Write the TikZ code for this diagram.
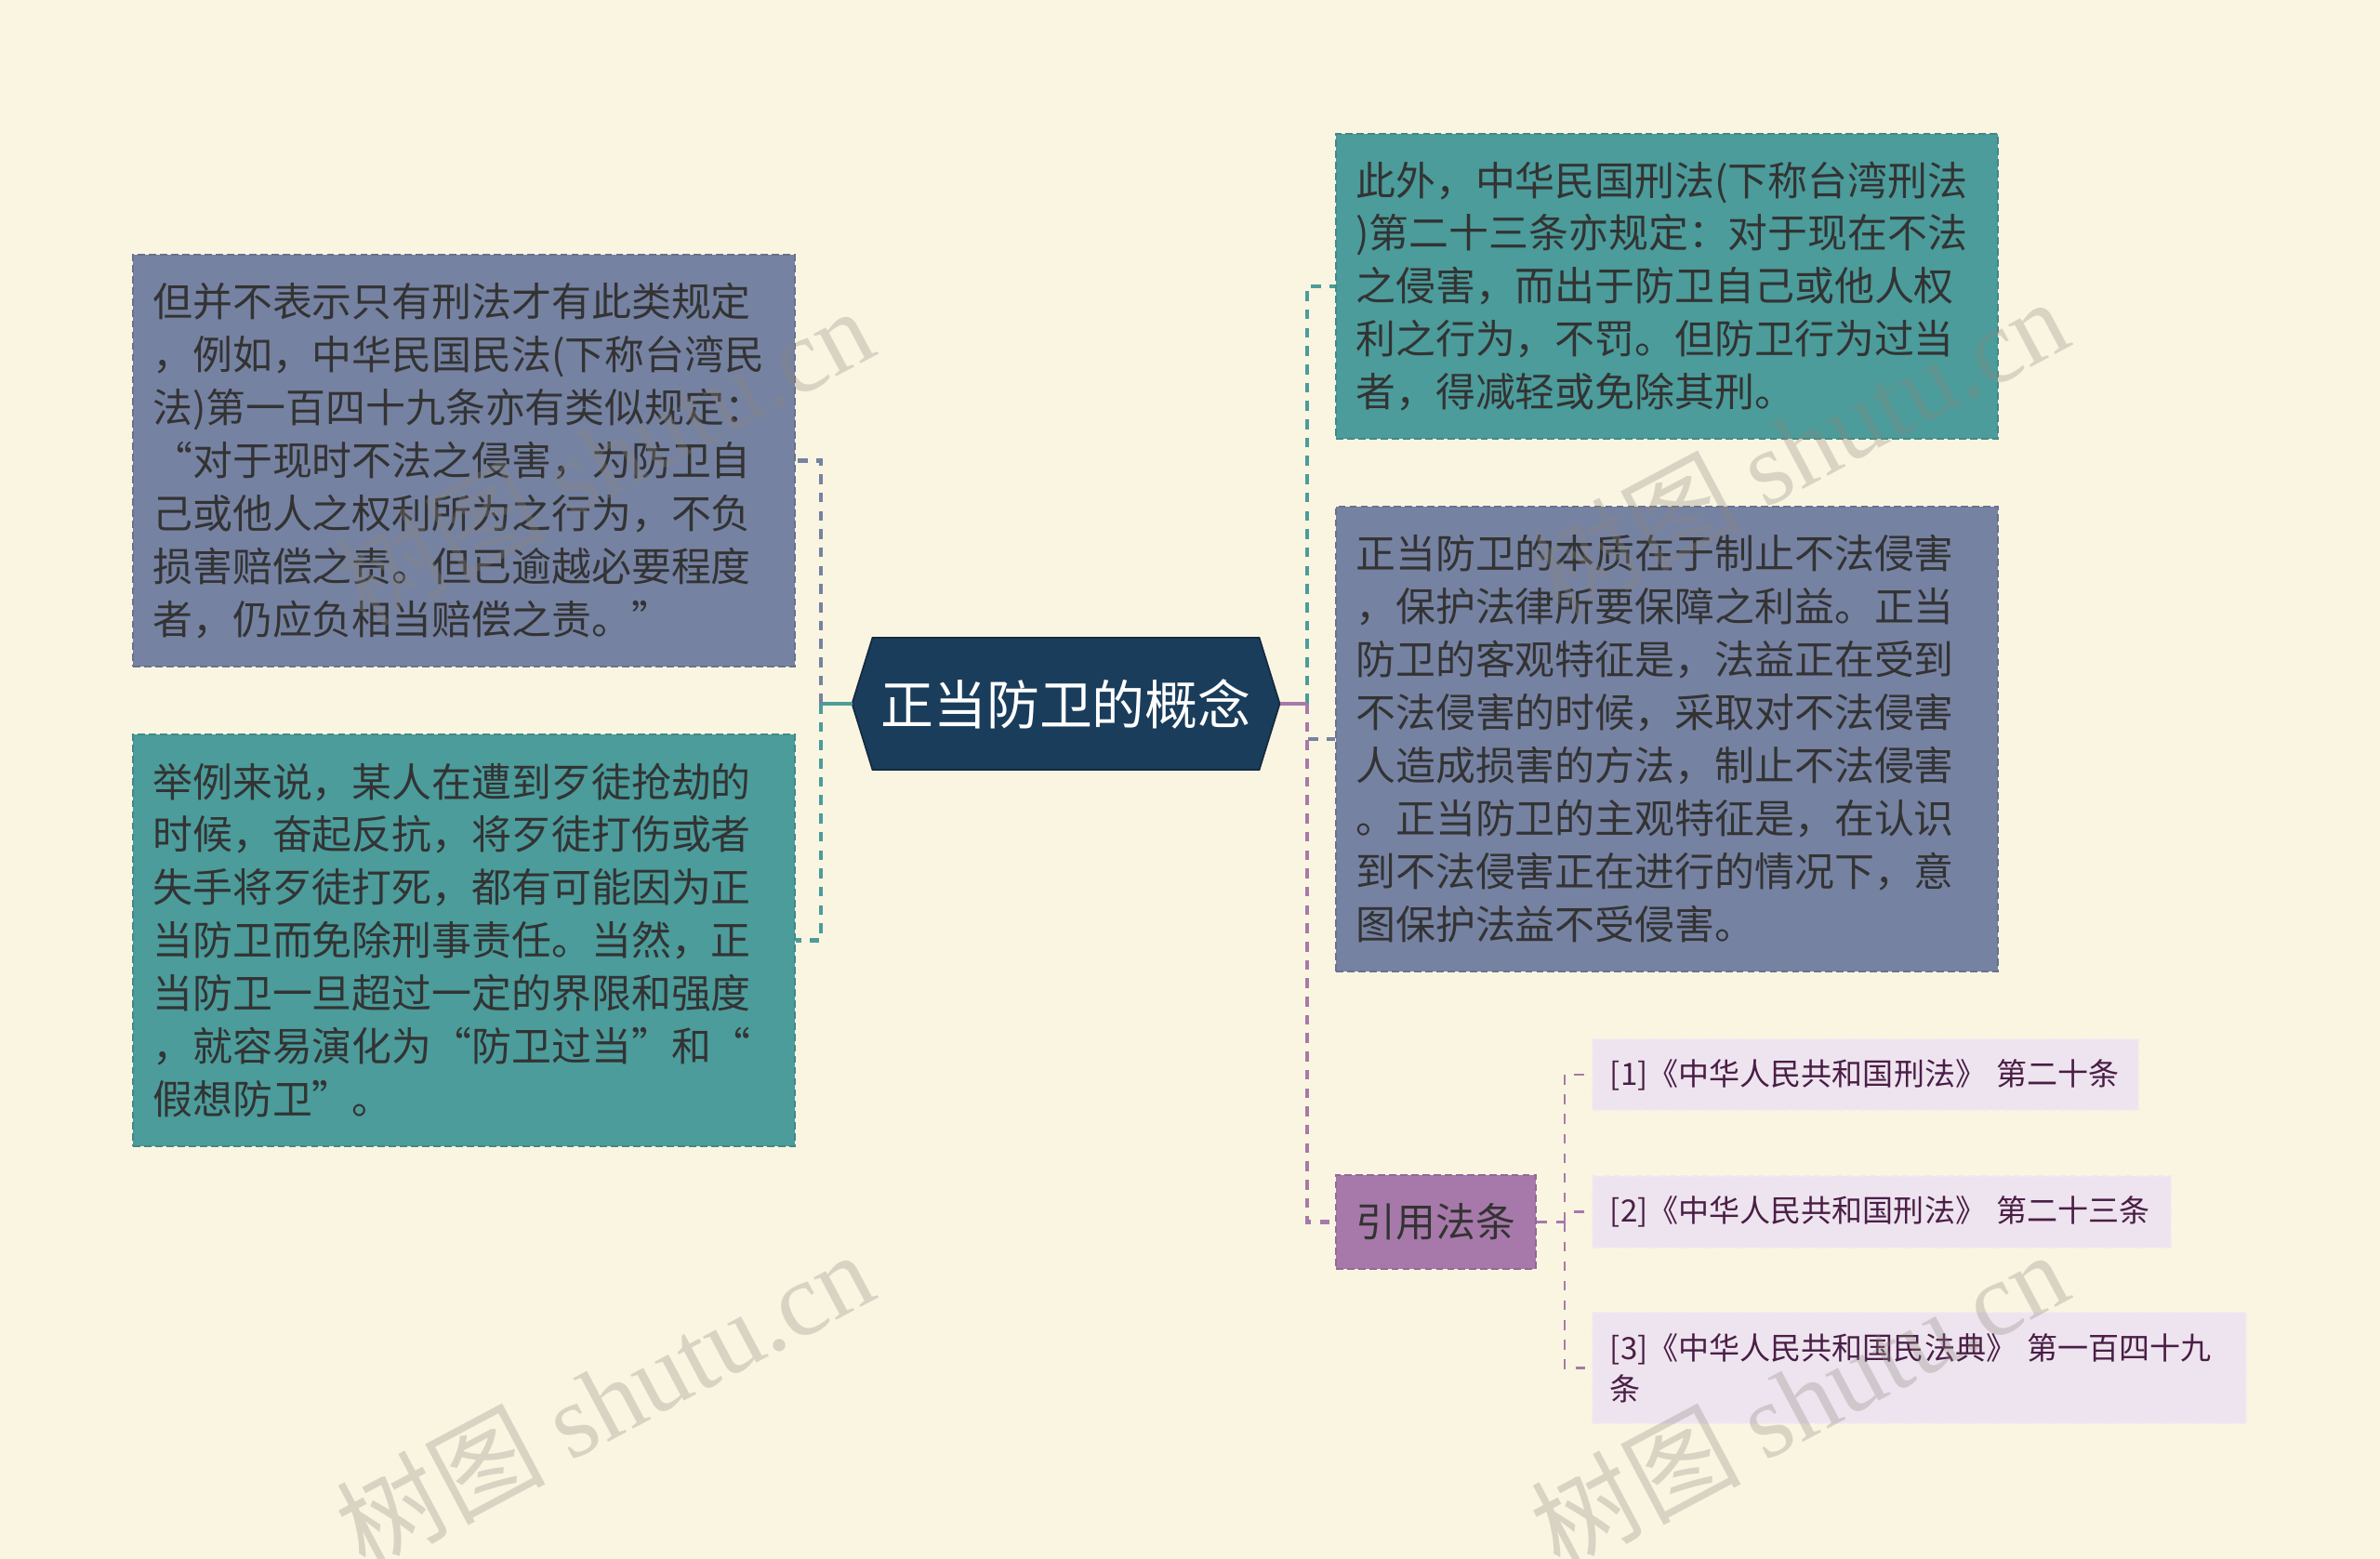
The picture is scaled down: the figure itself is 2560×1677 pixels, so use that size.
\documentclass[tikz,border=0pt]{standalone}
\usepackage{fontspec}
\setmainfont{Noto Sans CJK SC}
\newfontfamily\wmlatin{Liberation Serif}
\usetikzlibrary{calc}

\definecolor{bgcream}{HTML}{FAF5E1}
\definecolor{slateblue}{HTML}{7682A2}
\definecolor{tealbox}{HTML}{4B9C9B}
\definecolor{rootblue}{HTML}{1B3D5C}
\definecolor{citepurple}{HTML}{A779AA}
\definecolor{reflilac}{HTML}{EEE4EF}
\definecolor{textdark}{HTML}{333333}
\definecolor{refdark}{HTML}{4A1E46}
\definecolor{wmgray}{HTML}{8C877C}

\begin{document}
\begin{tikzpicture}[x=0.01cm, y=-0.01cm,
    txtbox/.style={rectangle, draw, dash pattern=on 2.2pt off 1.2pt, line width=0.6pt,
        inner xsep=0.21cm, inner ysep=0pt, align=left, text=textdark,
        font=\fontsize{12.2pt}{16.2pt}\selectfont, text width=6.69cm},
    refbox/.style={rectangle, fill=reflilac, draw=reflilac!85!white, dash pattern=on 2.2pt off 1.2pt,
        line width=0.6pt, inner xsep=0.19cm, inner ysep=0pt, align=left, text=refdark,
        font=\fontsize{9.4pt}{12.5pt}\selectfont},
    branch/.style={dash pattern=on 3pt off 2.6pt, line width=1.2pt},
    twig/.style={dash pattern=on 3pt off 3pt, line width=0.7pt, citepurple}]

    \useasboundingbox (0,0) rectangle (2560,1677);
    \fill[bgcream] (0,0) rectangle (2560,1677);

    % left side
    \node[txtbox, fill=slateblue, draw=slateblue!88!black, minimum height=4.43cm] (lb1) at (499,495.5)
        {但并不表示只有刑法才有此类规定\\，例如，中华民国民法(下称台湾民\\法)第一百四十九条亦有类似规定：\\“对于现时不法之侵害，为防卫自\\己或他人之权利所为之行为，不负\\损害赔偿之责。但已逾越必要程度\\者，仍应负相当赔偿之责。”};
    \node[txtbox, fill=tealbox, draw=tealbox!88!black, minimum height=4.43cm] (lb2) at (499,1011.5)
        {举例来说，某人在遭到歹徒抢劫的\\时候，奋起反抗，将歹徒打伤或者\\失手将歹徒打死，都有可能因为正\\当防卫而免除刑事责任。当然，正\\当防卫一旦超过一定的界限和强度\\，就容易演化为“防卫过当”和“\\假想防卫”。};

    % right side
    \node[txtbox, fill=tealbox, draw=tealbox!88!black, minimum height=3.28cm] (rb1) at (1793,308)
        {此外，中华民国刑法(下称台湾刑法\\)第二十三条亦规定：对于现在不法\\之侵害，而出于防卫自己或他人权\\利之行为，不罚。但防卫行为过当\\者，得减轻或免除其刑。};
    \node[txtbox, fill=slateblue, draw=slateblue!88!black, minimum height=5.0cm] (rb2) at (1793,795)
        {正当防卫的本质在于制止不法侵害\\，保护法律所要保障之利益。正当\\防卫的客观特征是，法益正在受到\\不法侵害的时候，采取对不法侵害\\人造成损害的方法，制止不法侵害\\。正当防卫的主观特征是，在认识\\到不法侵害正在进行的情况下，意\\图保护法益不受侵害。};

    \node[rectangle, fill=citepurple, draw=citepurple!88!black, dash pattern=on 2.2pt off 1.2pt,
        line width=0.6pt, minimum width=2.15cm, minimum height=1.01cm, text=textdark,
        font=\fontsize{12.2pt}{14pt}\selectfont] (cite) at (1544.5,1314.5) {引用法条};

    \node[refbox, text width=5.49cm, minimum height=0.76cm] (ref1) at (2006.5,1156)
        {[1]《中华人民共和国刑法》 第二十条};
    \node[refbox, text width=5.84cm, minimum height=0.77cm] (ref2) at (2024,1303.5)
        {[2]《中华人民共和国刑法》 第二十三条};
    \node[refbox, text width=6.65cm, minimum height=1.19cm] (ref3) at (2064.5,1471.5)
        {[3]《中华人民共和国民法典》 第一百四十九\\条};

    % root
    \coordinate (rc) at (1146.5,757);
    \coordinate (rootL) at ($(rc)+(-230,0)$);
    \coordinate (rootR) at ($(rc)+(230,0)$);
    \filldraw[fill=rootblue, draw=rootblue!70!black, line width=0.5pt]
        ($(rc)+(-208,-71)$) -- ($(rc)+(208,-71)$) -- (rootR) -- ($(rc)+(208,71)$)
        -- ($(rc)+(-208,71)$) -- (rootL) -- cycle;
    \node[text=white, font=\fontsize{16.2pt}{18pt}\selectfont] (root) at (rc) {正当防卫的概念};

    % connectors
    \coordinate (jl) at (883,757);
    \coordinate (jr) at (1406,757);
    \coordinate (js) at (1683,1314.5);

    \draw[tealbox, line width=1.2pt] (rootL) -- (jl);
    \draw[branch, slateblue] (jl) |- (lb1.east);
    \draw[branch, tealbox] (jl) |- (lb2.east);

    \draw[branch, tealbox] (jr) |- (rb1.west);
    \draw[branch, slateblue] (jr) |- (rb2.west);
    \draw[branch, citepurple] (jr) |- (cite.west);
    \draw[citepurple, line width=1.2pt] (rootR) -- (jr);

    \draw[twig] (cite.east) -- (js);
    \draw[twig] (js) |- (ref1.west);
    \draw[twig] (js) |- (ref2.west);
    \draw[twig] (js) |- (ref3.west);

    % watermarks
    \foreach \wx/\wy [count=\i] in {650/490, 1935/480, 650/1505, 1935/1505}
        \node[rotate=28, text=wmgray, opacity=0.3, font=\fontsize{32pt}{34pt}\selectfont] (wm\i)
            at (\wx,\wy) {树图 {\wmlatin shutu.cn}};

\end{tikzpicture}
\end{document}
